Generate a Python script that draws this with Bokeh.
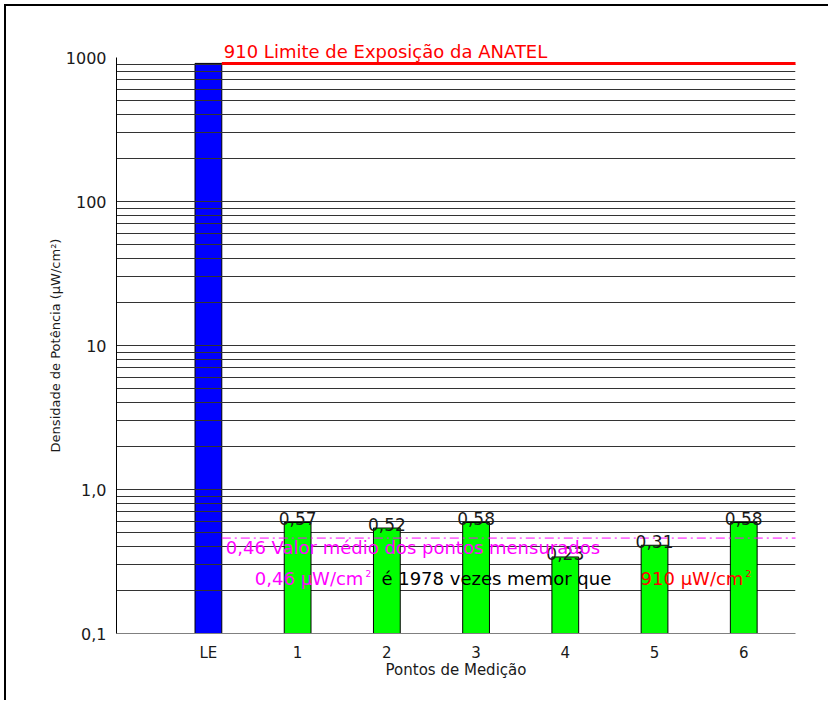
from bokeh.plotting import figure
from bokeh.models import Range1d, FixedTicker, Title
from bokeh.core.properties import value
from bokeh.embed import file_html
from bokeh.resources import INLINE

# ---- data ----
categories = ["LE", "1", "2", "3", "4", "5", "6"]
limit_value = 910                                   # ANATEL exposure limit (µW/cm²)
drawn_heights = [910, 0.59, 0.54, 0.59, 0.34, 0.41, 0.59]   # bar tops as drawn
measured_values = [0.57, 0.52, 0.58, 0.23, 0.31, 0.58]      # printed values
mean_value = 0.46
y_ticks = [0.1, 1, 10, 100, 1000]
y_tick_labels = ["0,1", "1,0", "10", "100", "1000"]

FONT = value("DejaVu Sans")


def br(v):
    return f"{v:.2f}".replace(".", ",")


xs = list(range(1, len(categories) + 1))
bar_w = 0.3
x_start, x_end = -0.03, 7.58

p = figure(width=824, height=696, y_axis_type="log",
           x_range=Range1d(x_start, x_end), y_range=Range1d(y_ticks[0], y_ticks[-1]),
           output_backend="svg", toolbar_location=None,
           min_border_left=110, min_border_right=35, min_border_top=51, min_border_bottom=69)
p.outline_line_color = None
p.background_fill_color = "white"
p.border_fill_color = "white"
p.styles = {"margin-left": "6px", "margin-top": "6px",
            "box-shadow": "-2px -2px 0px 0px #000000"}

# y axis (log)
yt = FixedTicker(ticks=y_ticks,
                 minor_ticks=[m * 10 ** e for e in range(-1, 3) for m in range(2, 10)])
p.yaxis.ticker = yt
p.ygrid.ticker = yt
p.yaxis.major_label_overrides = {t: l for t, l in zip(y_ticks, y_tick_labels)}
p.yaxis.major_tick_line_color = None
p.yaxis.minor_tick_line_color = None
p.yaxis.axis_line_color = "black"
p.yaxis.major_label_standoff = 4
p.yaxis.major_label_text_font = "DejaVu Sans"
p.yaxis.major_label_text_font_size = "16px"
p.yaxis.major_label_text_color = "#1a1a1a"
p.yaxis.axis_label = "Densidade de Potência (µW/cm²)"
p.yaxis.axis_label_text_font = "DejaVu Sans"
p.yaxis.axis_label_text_font_size = "13px"
p.yaxis.axis_label_text_font_style = "normal"
p.yaxis.axis_label_text_color = "#1a1a1a"
p.yaxis.axis_label_standoff = 0

p.ygrid.grid_line_color = "#333333"
p.ygrid.minor_grid_line_color = "#333333"
p.ygrid.level = "glyph"
p.xgrid.grid_line_color = None

# x axis
p.xaxis.ticker = FixedTicker(ticks=xs)
p.xaxis.major_label_overrides = {x: c for x, c in zip(xs, categories)}
p.xaxis.major_tick_line_color = None
p.xaxis.minor_tick_line_color = None
p.xaxis.major_tick_out = 0
p.xaxis.axis_line_color = "#808080"
p.xaxis.major_label_standoff = 10
p.xaxis.major_label_text_font = "DejaVu Sans"
p.xaxis.major_label_text_font_size = "15px"
p.xaxis.major_label_text_color = "#1a1a1a"

p.add_layout(Title(text="Pontos de Medição", align="center", offset=26, standoff=-12,
                   text_font="DejaVu Sans", text_font_size="15px",
                   text_font_style="normal", text_color="#1a1a1a"), "below")

# bars
p.vbar(x=xs[:1], top=drawn_heights[:1], bottom=y_ticks[0], width=bar_w,
       fill_color="#0000FF", line_color="black", line_width=1, level="underlay")
p.vbar(x=xs[1:], top=drawn_heights[1:], bottom=y_ticks[0], width=bar_w,
       fill_color="#00FF00", line_color="black", line_width=1, level="guide")

# value labels
p.text(x=xs[1:], y=drawn_heights[1:], text=[br(v) for v in measured_values],
       text_align="center", text_baseline="bottom", y_offset=3, text_font=FONT,
       text_font_size="17px", text_color="#1a1a1a", level="overlay")

# limit line + label
x_edge = xs[0] + bar_w / 2
p.segment(x0=[x_edge], x1=[x_end], y0=[limit_value], y1=[limit_value],
          line_color="#FF0000", line_width=3, level="annotation")
p.text(x=[x_edge], y=[limit_value], text=[f"{limit_value} Limite de Exposição da ANATEL"],
       text_align="left", text_baseline="middle", x_offset=2, y_offset=-12,
       text_font=FONT, text_font_size="18px", text_color="#FF0000", level="overlay")

# mean line + labels
p.segment(x0=[x_edge], x1=[x_end], y0=[mean_value], y1=[mean_value],
          line_color="#FF00FF", line_width=1, line_dash="9 4 2 4", level="annotation")
p.text(x=[x_edge], y=[mean_value], text=[f"{br(mean_value)} Valor médio dos pontos mensurados"],
       text_align="left", text_baseline="middle", x_offset=4, y_offset=9,
       text_font=FONT, text_font_size="18px", text_color="#FF00FF", level="overlay")

ratio = round(limit_value / mean_value)
pieces = [
    (f"{br(mean_value)} µW/cm", "#FF00FF", "right", 155, 40, "18px"),
    ("2", "#FF00FF", "left", 157, 35, "9px"),
    (f"é {ratio} vezes memor que", "#000000", "left", 173, 40, "18px"),
    (f"{limit_value} µW/cm", "#FF0000", "right", 535, 40, "18px"),
    ("2", "#FF0000", "left", 537, 35, "9px"),
]
for txt, col, align, dx, dy, fs in pieces:
    p.text(x=[xs[0]], y=[mean_value], text=[txt], text_align=align,
           text_baseline="middle", x_offset=dx, y_offset=dy,
           text_font=FONT, text_font_size=fs, text_color=col, level="overlay")

open("out.html", "w").write(file_html(p, INLINE))
